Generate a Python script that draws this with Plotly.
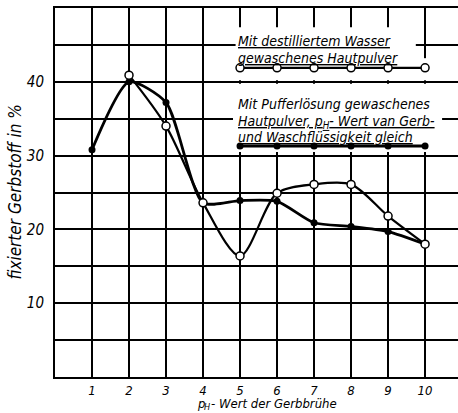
import plotly.graph_objects as go

# pH of the tanning liquor
ph_buffer = [1, 2, 3, 4, 5, 6, 7, 8, 9, 10]
ph_water = [2, 3, 4, 5, 6, 7, 8, 9, 10]

# fixed tannin in % — hide powder washed with buffer solution (same pH)
tannin_buffer = [30.8, 40.0, 37.2, 23.6, 23.9, 23.8, 20.9, 20.4, 19.7, 18.0]
# fixed tannin in % — hide powder washed with distilled water
tannin_water = [40.9, 34.0, 23.6, 16.4, 24.9, 26.1, 26.1, 21.8, 18.0]

x_ticks = [1, 2, 3, 4, 5, 6, 7, 8, 9, 10]
y_ticks = [10, 20, 30, 40]
y_half_grid = [5, 15, 25, 35, 45]

# legend keys sit on the pH grid positions 5..10
key_x = [5, 6, 7, 8, 9, 10]

FONT = "Liberation Sans Narrow, DejaVu Sans Condensed, Arial Narrow, sans-serif"
INK = "#000000"
LEFT, TOP, BOTTOM = 55, 8, 36
PLOT_W = 458 - LEFT
PLOT_H = 413 - TOP - BOTTOM


def px_x(px):
    """Horizontal page pixel -> paper coordinate."""
    return (px - LEFT) / PLOT_W


def px_y(py):
    """Vertical page pixel (from top) -> paper coordinate."""
    return (413 - BOTTOM - py) / PLOT_H


fig = go.Figure()

fig.add_trace(go.Scatter(
    x=ph_buffer, y=tannin_buffer, mode="lines+markers",
    line=dict(color=INK, width=2.8, shape="spline", smoothing=0.65),
    marker=dict(size=7, color=INK),
    showlegend=False, hoverinfo="skip",
))
fig.add_trace(go.Scatter(
    x=ph_water, y=tannin_water, mode="lines+markers",
    line=dict(color=INK, width=2.2, shape="spline", smoothing=0.85),
    marker=dict(size=8, color="white", line=dict(color=INK, width=1.5)),
    showlegend=False, hoverinfo="skip",
))

# white panels behind the hand-lettered legend
panels = [
    (4.88, 9.75, 40.2, 47.4),
    (9.75, 10.35, 40.2, 43.2),
    (4.81, 10.46, 30.5, 39.75),
]
for x0, x1, y0, y1 in panels:
    fig.add_shape(type="rect", xref="x", yref="y", x0=x0, x1=x1, y0=y0, y1=y1,
                  fillcolor="white", line=dict(width=0), layer="between")

# legend keys
fig.add_trace(go.Scatter(
    x=key_x, y=[41.9] * len(key_x), mode="lines+markers",
    line=dict(color=INK, width=2.2),
    marker=dict(size=8, color="white", line=dict(color=INK, width=1.5)),
    showlegend=False, hoverinfo="skip",
))
fig.add_trace(go.Scatter(
    x=key_x, y=[31.3] * len(key_x), mode="lines+markers",
    line=dict(color=INK, width=2.8),
    marker=dict(size=7, color=INK),
    showlegend=False, hoverinfo="skip",
))

legend_lines = [
    ("<i><u>Mit destilliertem Wasser</u></i>", 45.5),
    ("<i><u>gewaschenes Hautpulver</u></i>", 43.2),
    ("<i>Mit Pufferlösung gewaschenes</i>", 37.0),
    ("<i><u>Hautpulver, p<sub>H</sub>- Wert van Gerb-</u></i>", 34.6),
    ("<i><u>und Waschflüssigkeit gleich</u></i>", 32.5),
]
for text, y in legend_lines:
    fig.add_annotation(x=4.9, y=y, xref="x", yref="y", text=text, showarrow=False,
                       xanchor="left", yanchor="middle",
                       font=dict(family=FONT, size=14, color=INK))

fig.add_annotation(x=px_x(14), y=0.5, xref="paper", yref="paper",
                   text="<i>fixierter Gerbstoff in %</i>",
                   textangle=-90, showarrow=False, xanchor="center", yanchor="middle",
                   font=dict(family=FONT, size=17, color=INK))

# x-axis title, lettered as p, subscript H, then the rest
title_font = dict(family=FONT, size=13, color=INK)
fig.add_annotation(x=px_x(196), y=px_y(412), xref="paper", yref="paper",
                   text="<i>p</i>", showarrow=False, xanchor="left", yanchor="bottom",
                   borderpad=0, font=title_font)
fig.add_annotation(x=px_x(203), y=px_y(413), xref="paper", yref="paper",
                   text="<i>H</i>", showarrow=False, xanchor="left", yanchor="bottom",
                   borderpad=0, font=dict(family=FONT, size=9, color=INK))
fig.add_annotation(x=px_x(210), y=px_y(412), xref="paper", yref="paper",
                   text="<i>- Wert der Gerbbrühe</i>", showarrow=False,
                   xanchor="left", yanchor="bottom", borderpad=0, font=title_font)

fig.update_xaxes(
    range=[0, 10.89], tickvals=x_ticks, ticktext=[f"<i>{v}</i>" for v in x_ticks],
    showgrid=True, gridcolor=INK, gridwidth=1.5, zeroline=False,
    showline=True, linecolor=INK, linewidth=2, mirror=True,
    ticks="", ticklen=0, tickfont=dict(family=FONT, size=13, color=INK),
)
fig.update_yaxes(
    range=[0, 50], tickvals=y_ticks, ticktext=[f"<i>{v}</i>" for v in y_ticks],
    showgrid=True, gridcolor=INK, gridwidth=1.5, zeroline=False,
    minor=dict(tickvals=y_half_grid, showgrid=True, gridcolor=INK, gridwidth=1.5, ticks=""),
    showline=True, linecolor=INK, linewidth=2, mirror=False,
    ticks="", ticklabelstandoff=6, tickfont=dict(family=FONT, size=15, color=INK),
)

fig.update_layout(
    width=458, height=413,
    margin=dict(l=LEFT, r=0, t=TOP, b=BOTTOM),
    paper_bgcolor="white", plot_bgcolor="white",
)

fig.write_html("out.html")
